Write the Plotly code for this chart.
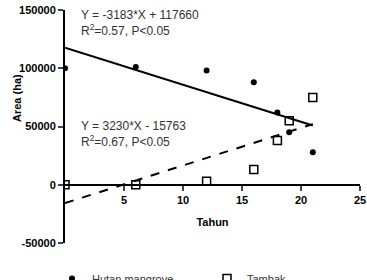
import plotly.graph_objects as go

# Data
tahun_mangrove = [0, 6, 12, 16, 18, 19, 21]
area_mangrove = [100000, 101000, 98000, 88000, 62000, 45000, 28000]
tahun_tambak = [0, 6, 12, 16, 18, 19, 21]
area_tambak = [0, 0, 3000, 13000, 38000, 55000, 75000]

slope_mangrove, icpt_mangrove = -3183, 117660
slope_tambak, icpt_tambak = 3230, -15763
fit_x = [0, 21]

x_ticks = [5, 10, 15, 20, 25]
y_ticks = [-50000, 0, 50000, 100000, 150000]
y_ticktext = ["-50000", "0", "50000", "100000", "150000"]

font = "Liberation Sans, Arial, sans-serif"

W, H = 367, 280
ML, MR, MT, MB = 65, 7, 10, 37
plot_w, plot_h = W - ML - MR, H - MT - MB
def px(xp):
    return (xp - ML) / plot_w
def py(yp):
    return (H - MB - yp) / plot_h

fig = go.Figure()
fig.add_trace(go.Scatter(
    x=fit_x, y=[icpt_mangrove + slope_mangrove * v for v in fit_x],
    mode="lines", line=dict(color="black", width=2), showlegend=False, hoverinfo="skip"))
fig.add_trace(go.Scatter(
    x=fit_x, y=[icpt_tambak + slope_tambak * v for v in fit_x],
    mode="lines", line=dict(color="black", width=2, dash="dash"), showlegend=False, hoverinfo="skip"))
fig.add_trace(go.Scatter(
    x=tahun_mangrove, y=area_mangrove, mode="markers", name="Hutan mangrove",
    marker=dict(symbol="circle", size=6, color="black")))
fig.add_trace(go.Scatter(
    x=tahun_tambak, y=area_tambak, mode="markers", name="Tambak",
    marker=dict(symbol="square-open", size=8, color="black", line=dict(width=1.5))))

fig.update_layout(
    width=W, height=H,
    margin=dict(l=ML, r=MR, t=MT, b=MB, autoexpand=False),
    paper_bgcolor="white", plot_bgcolor="white",
    font=dict(family=font, size=11, color="black"),
    showlegend=True,
    legend=dict(orientation="h", x=px(52), y=py(264), xanchor="left", yanchor="top",
                font=dict(size=11, color="#333"), itemwidth=30, tracegroupgap=0,
                entrywidth=110, entrywidthmode="pixels"),
    xaxis=dict(range=[0, 25], tickvals=x_ticks, ticks="outside", ticklen=5, tickwidth=2,
               showline=True, linewidth=2, linecolor="black", showgrid=False, zeroline=False,
               anchor="free", position=0.25,
               tickfont=dict(family=font, size=11, color="black", weight="bold"),
               title=dict(text="<b>Tahun</b>", font=dict(size=11), standoff=12)),
    yaxis=dict(range=[-50000, 150000], tickvals=y_ticks, ticktext=y_ticktext,
               ticks="outside", ticklen=5, tickwidth=2,
               showline=True, linewidth=2, linecolor="black", showgrid=False, zeroline=False,
               tickfont=dict(family=font, size=11, color="black", weight="bold")),
)

fig.add_annotation(text="<b>Area (ha)</b>", textangle=-90, x=px(9), y=py(98), xref="paper", yref="paper",
                   showarrow=False, font=dict(size=11))
eq_font = dict(size=12, color="#333")
fig.add_annotation(text="Y = -3183*X + 117660<br>R<sup>2</sup>=0.57, P<0.05", x=px(79), y=py(6),
                   xref="paper", yref="paper", xanchor="left", yanchor="top", align="left",
                   showarrow=False, font=eq_font)
fig.add_annotation(text="Y = 3230*X - 15763<br>R<sup>2</sup>=0.67, P<0.05", x=px(79), y=py(117),
                   xref="paper", yref="paper", xanchor="left", yanchor="top", align="left",
                   showarrow=False, font=eq_font)

fig.write_html("out.html")
